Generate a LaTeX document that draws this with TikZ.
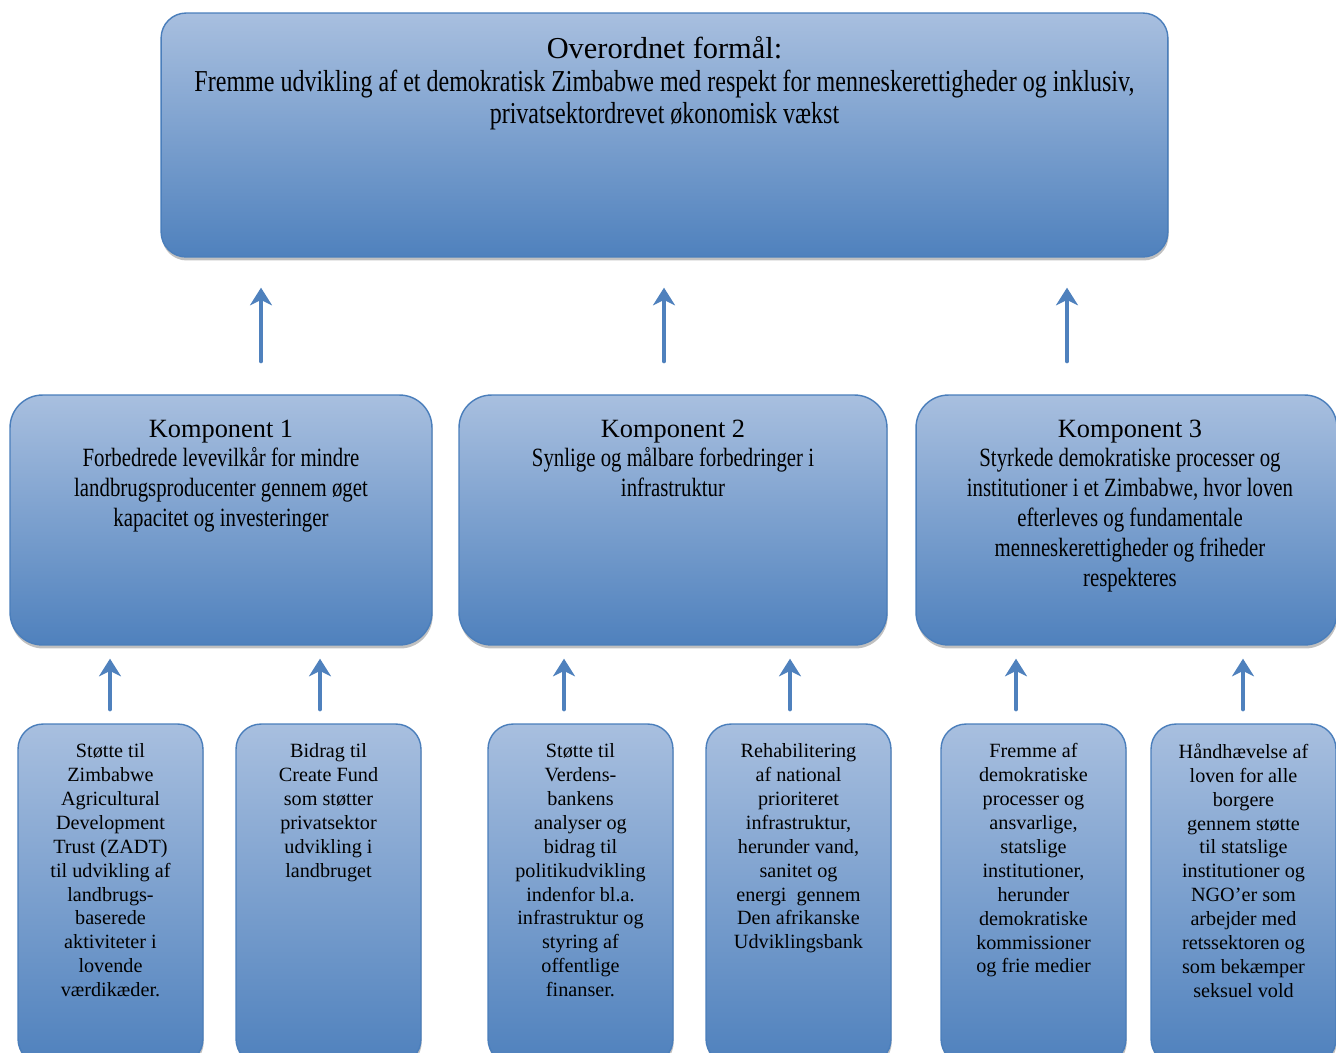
\documentclass[tikz,border=0pt]{standalone}
\usepackage{fontspec}
\setmainfont{Liberation Serif}
\newfontfamily\smal[FakeStretch=0.79]{Liberation Serif}
\usetikzlibrary{positioning,calc,shadows,arrows.meta}
\definecolor{boxtop}{RGB}{168,191,223}
\definecolor{boxbot}{RGB}{79,129,189}
\definecolor{boxline}{RGB}{74,126,187}
\tikzset{
	kasse/.style={draw=boxline, line width=0.8pt, rounded corners=0.6cm, top color=boxtop, bottom color=boxbot,
		drop shadow={shadow xshift=0.4pt, shadow yshift=-2pt, fill=black!45, opacity=.55}},
	pil/.style={draw=boxbot, line width=2.3pt, -{Stealth[length=10pt,width=12.5pt,inset=3pt]}},
	tekst/.style={anchor=north, align=center, inner sep=0pt},
}
\begin{document}
\begin{tikzpicture}[x=0.02cm, y=-0.02cm, line join=round, line cap=round]%Formaal
	\useasboundingbox (0,0) rectangle (1336,1052);
	\clip (0,0) rectangle (1336,1052);
	% overordnet formaal
	\node[kasse, minimum width=20.14cm, minimum height=4.88cm, rounded corners=0.5cm] (formaal) at (664.5,135) {};
	\node[tekst, font=\fontsize{17.3}{18.7}\selectfont] (formaaltxt) at ([yshift=-0.47cm]formaal.north)
		{Overordnet formål:\\ {\smal Fremme udvikling af et demokratisk Zimbabwe med respekt for menneskerettigheder og inklusiv,}\\
		{\smal privatsektordrevet økonomisk vækst}};
	% komponenter
	\node[kasse, minimum width=8.44cm, minimum height=5cm, rounded corners=0.65cm] (k1) at (221,520) {};
	\node[kasse, minimum width=8.56cm, minimum height=5cm, rounded corners=0.65cm] (k2) at (673,520) {};
	\node[kasse, minimum width=8.42cm, minimum height=5cm, rounded corners=0.65cm] (k3) at (1126.5,520) {};
	\node[tekst, font=\fontsize{15}{17}\selectfont] (k1txt) at ([yshift=-0.5cm]k1.north)
		{Komponent 1\\ {\smal Forbedrede levevilkår for mindre}\\ {\smal landbrugsproducenter gennem øget}\\
		{\smal kapacitet og investeringer}};
	\node[tekst, font=\fontsize{15}{17}\selectfont] (k2txt) at ([yshift=-0.5cm]k2.north)
		{Komponent 2\\ {\smal Synlige og målbare forbedringer i}\\ {\smal infrastruktur}};
	\node[tekst, font=\fontsize{15}{17}\selectfont] (k3txt) at ([xshift=0.07cm,yshift=-0.5cm]k3.north)
		{Komponent 3\\ {\smal Styrkede demokratiske processer og}\\ {\smal institutioner i et Zimbabwe, hvor loven}\\
		{\smal efterleves og fundamentale}\\ {\smal menneskerettigheder og friheder}\\ {\smal respekteres}};
	% indsatser
	\foreach \b/\x in {b1/110.5, b2/328.5, b3/580.5, b4/798.5, b5/1033.5, b6/1243.5}
		\node[kasse, minimum width=3.7cm, minimum height=6.8cm, rounded corners=0.5cm] (\b) at (\x,894) {};
	\tikzset{every node/.append style={font=\fontsize{11.5}{13.6}\selectfont}}
	\node[tekst] (b1txt) at ([yshift=-0.4cm]b1.north) {Støtte til\\ Zimbabwe\\ Agricultural\\ Development\\ Trust (ZADT)\\
		til udvikling af\\ landbrugs-\\ baserede\\ aktiviteter i\\ lovende\\ værdikæder.};
	\node[tekst] (b2txt) at ([yshift=-0.4cm]b2.north) {Bidrag til\\ Create Fund\\ som støtter\\ privatsektor\\ udvikling i\\ landbruget};
	\node[tekst] (b3txt) at ([yshift=-0.4cm]b3.north) {Støtte til\\ Verdens-\\ bankens\\ analyser og\\ bidrag til\\ politikudvikling\\
		indenfor bl.a.\\ infrastruktur og\\ styring af\\ offentlige\\ finanser.};
	\node[tekst] (b4txt) at ([yshift=-0.4cm]b4.north) {Rehabilitering\\ af national\\ prioriteret\\ infrastruktur,\\ herunder vand,\\
		sanitet og\\ energi~ gennem\\ Den afrikanske\\ Udviklingsbank};
	\node[tekst] (b5txt) at ([yshift=-0.4cm]b5.north) {Fremme af\\ demokratiske\\ processer og\\ ansvarlige,\\ statslige\\
		institutioner,\\ herunder\\ demokratiske\\ kommissioner\\ og frie medier};
	\node[tekst] (b6txt) at ([yshift=-0.4cm]b6.north) {Håndhævelse af\\ loven for alle\\ borgere\\ gennem støtte\\ til statslige\\
		institutioner og\\ NGO’er som\\ arbejder med\\ retssektoren og\\ som bekæmper\\ seksuel vold};
	% pile
	\foreach \k/\d in {k1/40, k2/-9, k3/-59.5}
		\draw[pil] ($(\k.north)+(\d,-33)$) -- ($(formaal.south -| \k.north)+(\d,30)$);
	\foreach \b/\k/\d in {b1/k1/-0.5, b2/k1/-8.5, b3/k2/-16.5, b4/k2/-8.5, b5/k3/-17.5, b6/k3/-0.5}
		\draw[pil] ($(\b.north)+(\d,-14)$) -- ($(\k.south -| \b.north)+(\d,13)$);
\end{tikzpicture}
\end{document}
